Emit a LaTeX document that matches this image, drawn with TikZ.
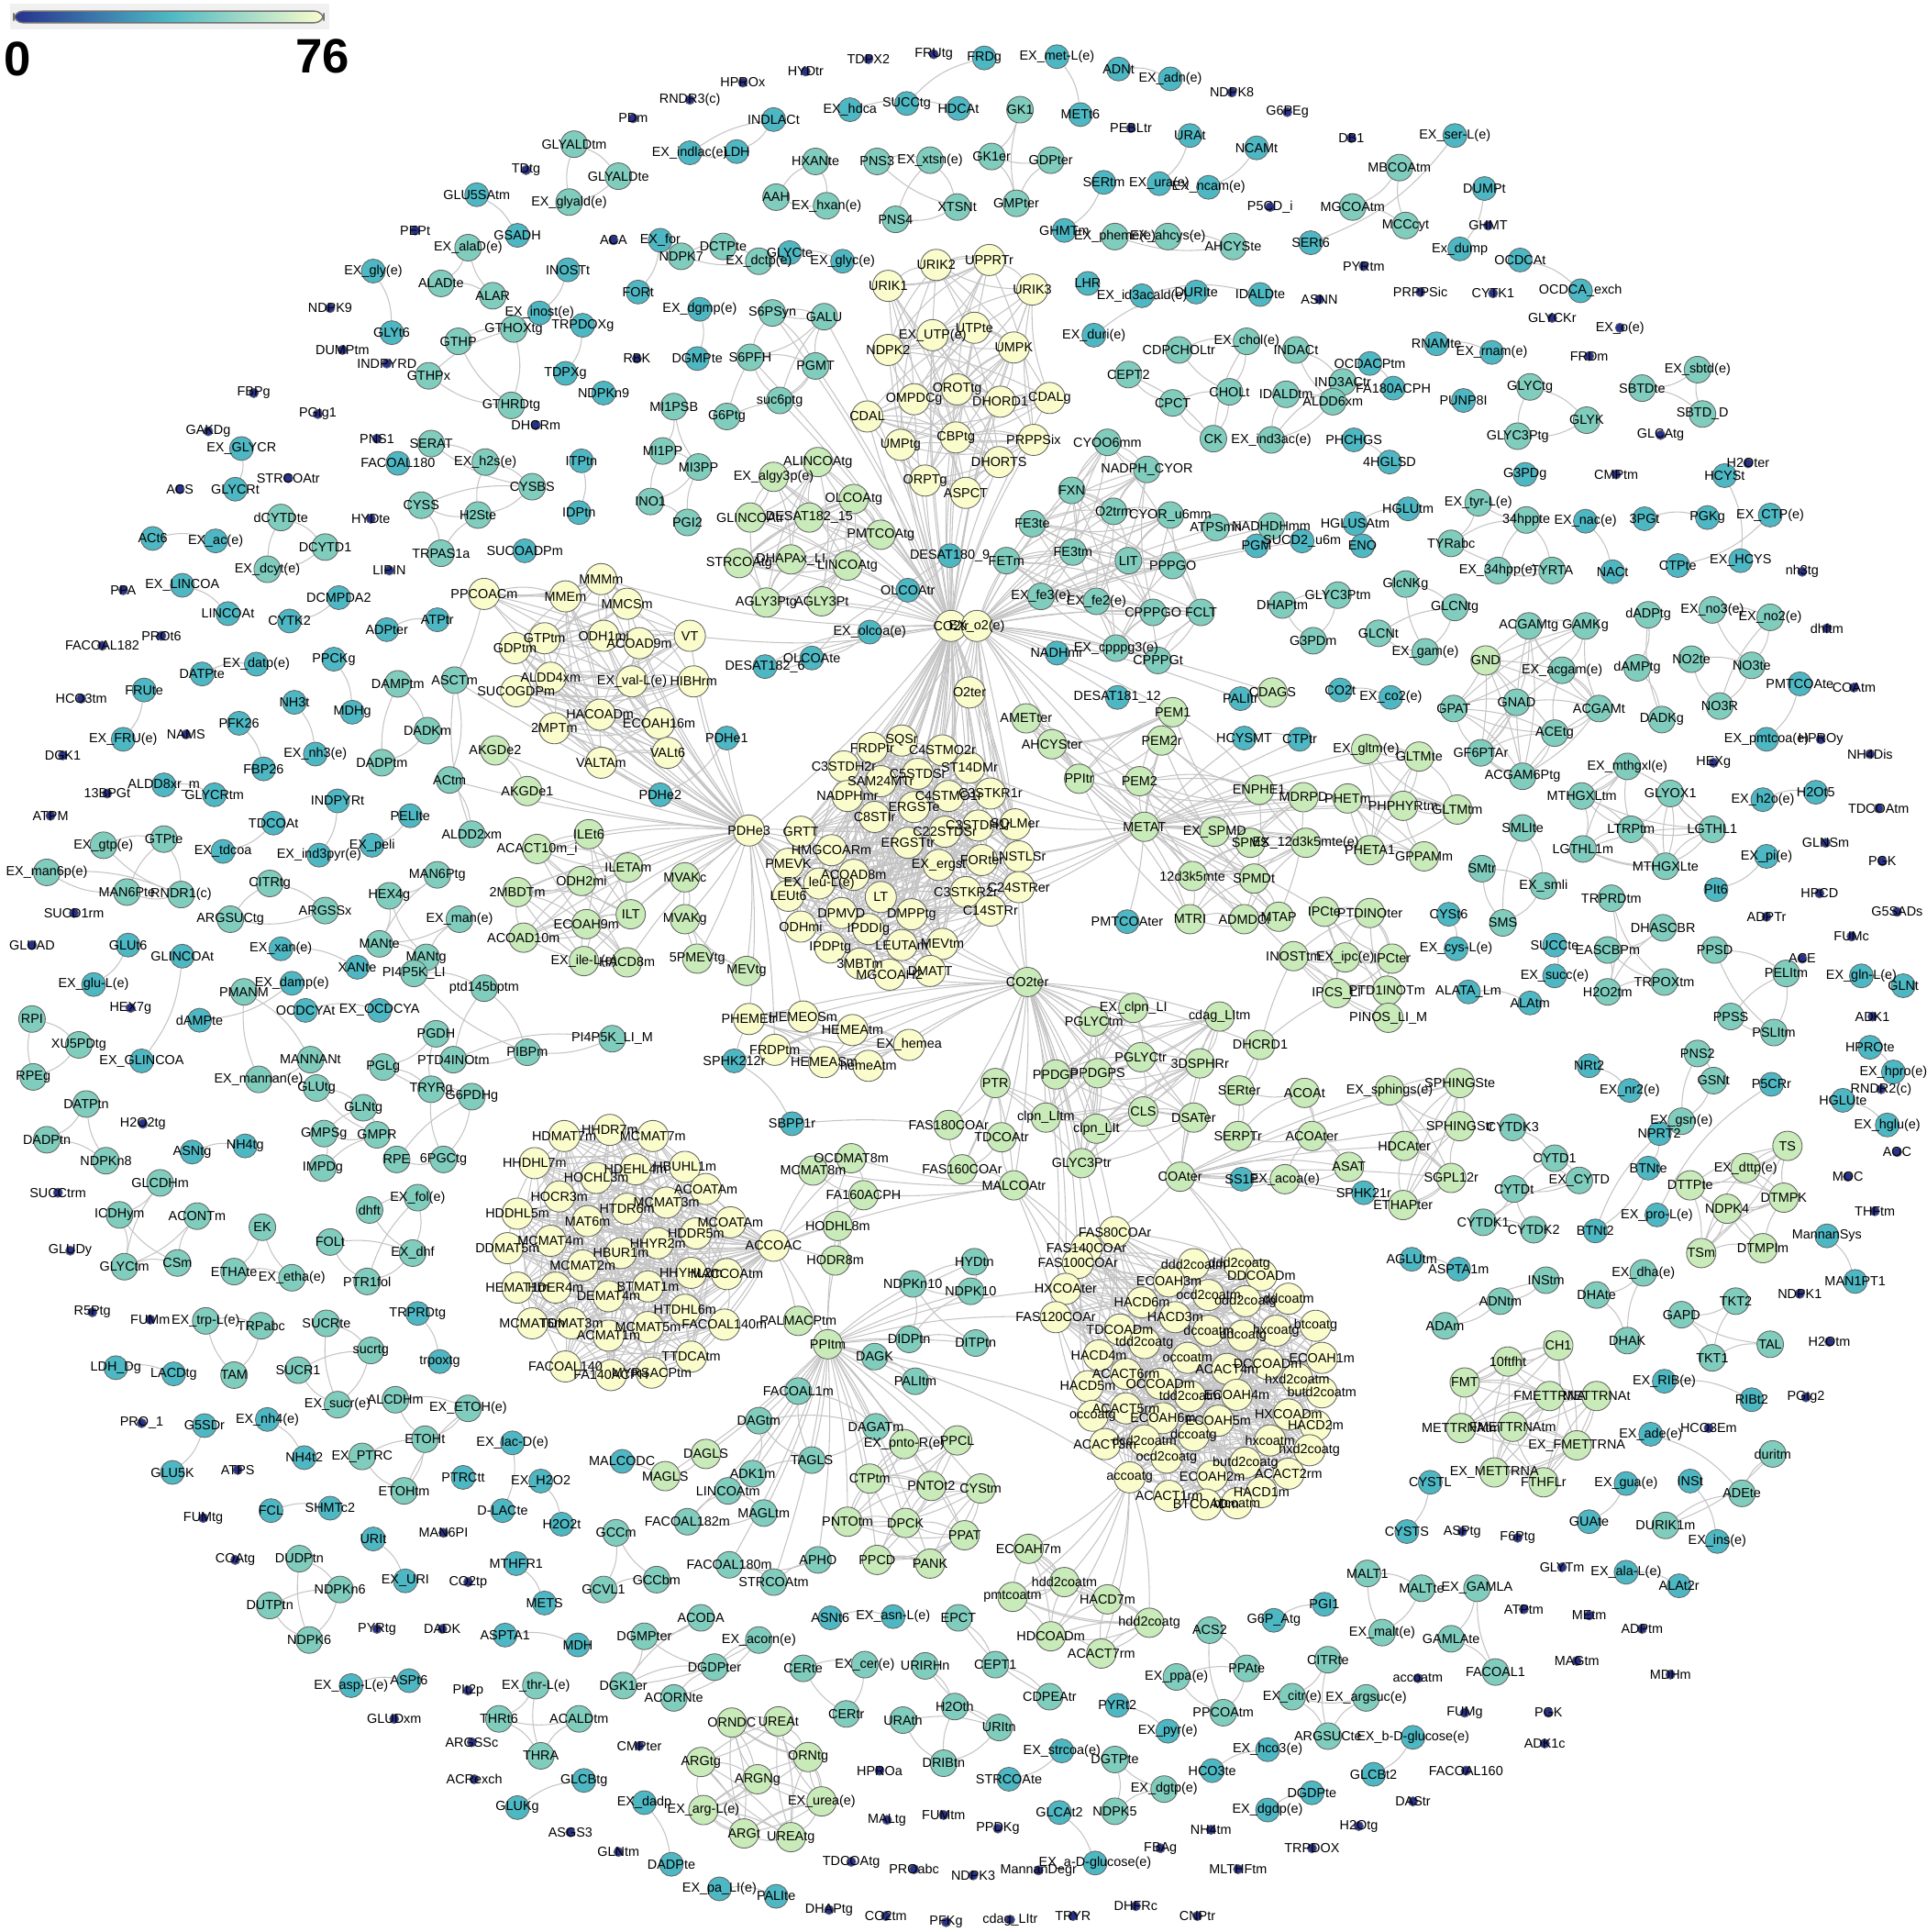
\documentclass[tikz,border=0pt]{standalone}
\usepackage{fontspec}
\setmainfont{Liberation Sans}
\pgfdeclarelayer{bgl}
\pgfdeclarelayer{fg}
\pgfsetlayers{bgl,main,fg}
\definecolor{dkc}{HTML}{27318F}
\definecolor{tlc}{HTML}{4DB8C3}
\definecolor{mtc}{HTML}{80CDBE}
\definecolor{lgc}{HTML}{C9EAB9}
\definecolor{ylc}{HTML}{FBFCCC}
\definecolor{edgc}{HTML}{C4C4C4}
\tikzset{
 base/.style={circle, draw=black!60, line width=0.25pt, inner sep=0pt},
 dk/.style={base, fill=dkc, minimum size=0.1cm},
 tl/.style={base, fill=tlc, minimum size=0.26cm},
 mt/.style={base, fill=mtc, minimum size=0.29cm},
 lg/.style={base, fill=lgc, minimum size=0.32cm},
 yl/.style={base, fill=ylc, minimum size=0.34cm},
 lb/.style={font=\fontsize{4.1}{4.1}\selectfont, inner sep=0pt, text=black},
 lnk/.style={draw=edgc, line width=0.3pt},
}
\def\grplist{}
\newcommand\defgrp[4]{%
  \expandafter\gdef\csname G@#1\endcsname{#4}%
  \ifx\grplist\empty\xdef\grplist{#1/#2/#3}\else\xdef\grplist{\grplist,#1/#2/#3}\fi}
\newcommand\mydense[5]{%
  \foreach \i in {1,...,#2}{%
    \foreach \j in {1,...,#5}{%
      \pgfmathtruncatemacro\kk{mod(\i*#3+\j*#4,#2)+1}%
      \ifnum\kk=\i\relax\else\draw[lnk] (#1-\i) to[bend left=10] (#1-\kk);\fi
    }}}
\newcommand\myspoke[4]{%
  \foreach \k in {#3} {\draw[lnk] (#1) to[bend left=#4] (#2-\k);}}

% ===== dark isolated nodes =====
\defgrp{DA}{dk}{0}{603/67/HPROx, 654/58/HYDtr, 705/48/TDPX2, 758/44/FRUtg, 560/81/RNDR3(c), 514/96/PDm, 918/104/PEBLtr, 1000/75/NDPK8, 1045/91/G6PEg, 1097/112/DB1, 427/138/TDtg, 1031/168/P5CD\_i, 1208/183/GHMT, 337/187/PEPt, 498/195/ACA, 1071/243/ASNN, 1107/216/PYRtm, 1153/237/PRPPSic, 1212/238/CYTK1, 1260/258/GLYCKr, 1315/266/EX\_o(e), 1290/289/FRDm, 268/250/NDPK9, 517/291/RBK, 278/284/DUMPtm, 314/295/INDPYRD, 206/319/FBPg, 258/336/PGtg1, 306/356/PNS1, 435/345/DHCRm, 169/350/GAKDg, 234/388/STRCOAtr, 146/397/ACS, 1348/353/GLCAtg, 1312/385/CMPtm, 1419/376/H2Oter}
\defgrp{DB}{dk}{0}{301/421/HYDte, 316/463/LIPIN, 100/479/PPA, 131/516/PROt6, 83/524/FACOAL182, 66/567/HCO3tm, 151/596/NAMS, 51/613/DGK1, 87/644/13BPGt, 41/662/ATPM, 60/741/SUCD1rm, 26/767/GLUAD, 106/818/HEX7g, 116/912/H2O2tg, 47/968/SUCCtrm, 57/1015/GLUDy, 75/1065/R5Ptg, 122/1071/FUMm, 115/1155/PRO\_1, 193/1193/ATPS, 165/1232/FUMtg, 360/1244/MAN6PI, 191/1266/COAtg, 380/1284/CO2tp, 306/1322/PYRtg, 359/1322/DADK, 380/1372/PIt2p, 320/1395/GLUDxm, 383/1414/ARGSSc, 385/1444/ACRexch, 463/1487/ASGS3, 502/1503/GLNtm, 519/1417/CMPter}
\defgrp{DC}{dk}{0}{714/1437/HPROa, 720/1477/MALtg, 766/1473/FUMtm, 810/1484/PPDKg, 691/1511/TDCOAtg, 742/1517/PROabc, 790/1522/NDPK3, 843/1518/MannanDegr, 673/1550/DHAPtg, 719/1555/CO2tm, 768/1560/PFKg, 820/1558/cdag\_LItr, 871/1555/TRYR, 922/1547/DHFRc, 942/1500/FBAg, 983/1485/NH4tm, 1065/1500/TRPDOX, 1005/1517/MLTHFtm, 972/1555/CNPtr, 1103/1482/H2Otg, 1147/1462/DAStr, 1190/1437/FACOAL160, 1151/1362/accoatm, 1189/1390/FUMg, 1257/1390/PGK, 1254/1415/ADK1c, 1280/1348/MAGtm, 1356/1359/MDHm, 1237/1306/ATPtm, 1290/1311/MEtm, 1333/1322/ADPtm, 1268/1272/GLYTm, 1187/1243/ASPtg, 1232/1248/F6Ptg, 1387/1159/HCO3Em, 1466/1134/PGtg2, 1485/1089/H2Otm, 1461/1050/NDPK1, 1522/983/THFtm, 1500/955/MOC, 1540/935/AOC}
\defgrp{DD}{dk}{0}{1463/464/nh3tg, 1483/510/dhftm, 1505/558/COAtm, 1478/600/HPROy, 1518/612/NH4Dis, 1391/619/HEXg, 1525/656/TDCOAtm, 1482/684/GLNSm, 1528/699/PGK, 1477/725/HPCD, 1434/744/ADPTr, 1540/740/G5SADs, 1503/760/FUMc, 1463/778/ACE, 1520/825/ADK1, 1527/884/RNDR2(c)}

% ===== top groups =====
\defgrp{T1}{tl}{1}{690/89/EX\_hdca, 778/88/HDCAt}
\defgrp{T2}{tl}{1}{736/84/SUCCtg, 799/47/FRDg}
\defgrp{T3}{tl}{1}{628/97/INDLACt, 598/123/LDH, 560/124/EX\_indlac(e)}
\defgrp{T4}{mt}{1}{828/89/GK1, 805/127/GK1er, 825/165/GMPter, 853/130/GDPter}
\defgrp{T5}{mt}{1}{630/160/AAH, 662/131/HXANte, 671/167/EX\_hxan(e)}
\defgrp{T6}{mt}{1}{712/131/PNS3, 755/130/EX\_xtsn(e), 777/168/XTSNt, 727/178/PNS4}
\defgrp{T7}{tl}{1}{858/46/EX\_met-L(e), 877/93/METt6}
\defgrp{T8}{tl}{1}{908/56/ADNt, 950/64/EX\_adn(e)}
\defgrp{T9}{tl}{1}{966/110/URAt, 941/149/EX\_ura(e)}
\defgrp{T10}{tl}{1}{1020/120/NCAMt, 981/152/EX\_ncam(e)}
\defgrp{T11}{tl}{1}{896/148/SERtm, 864/187/GHMTm}
\defgrp{T12}{tl}{1}{1181/110/EX\_ser-L(e), 1064/197/SERt6}
\defgrp{T13}{mt}{1}{1136/136/MBCOAtm, 1098/168/MGCOAtm, 1141/183/MCCcyt}
\defgrp{T14}{tl}{1}{1205/153/DUMPt, 1185/202/Ex\_dump}
\defgrp{T15}{mt}{1}{905/192/EX\_pheme(e), 948/192/EX\_ahcys(e), 1001/200/AHCYSte}
\defgrp{T16}{mt}{1}{466/117/GLYALDtm, 502/143/GLYALDte, 462/164/EX\_glyald(e)}
\defgrp{T17}{tl}{1}{387/158/GLU5SAtm, 420/191/GSADH}
\defgrp{T18}{tl}{1}{536/195/EX\_for, 518/237/FORt}
\defgrp{T19}{mt}{1}{553/208/NDPK7, 587/200/DCTPte, 616/212/EX\_dctp(e)}
\defgrp{T20}{tl}{1}{641/205/GLYCte, 684/212/EX\_glyc(e)}
\defgrp{T21}{mt}{1}{380/201/EX\_alaD(e), 358/230/ALADte, 400/240/ALAR}
\defgrp{T22}{tl}{1}{461/219/INOSTt, 438/254/EX\_inost(e)}
\defgrp{T23}{tl}{1}{303/220/EX\_gly(e), 318/270/GLYt6}
\defgrp{T24}{tl}{1}{568/251/EX\_dgmp(e), 566/291/DGMPte}
\defgrp{T25}{mt}{1}{372/277/GTHP, 417/267/GTHOXtg, 415/329/GTHRDtg, 348/305/GTHPx}
\defgrp{T26}{tl}{1}{473/264/TRPDOXg, 459/303/TDPXg}
\defgrp{T27}{tl}{1}{888/272/EX\_duri(e), 971/237/DURIte}
\defgrp{T28}{tl}{1}{927/240/EX\_id3acald(e), 1023/239/IDALDte}
\defgrp{T29}{tl}{1}{883/230/LHR}
\defgrp{T30}{mt}{1}{957/284/CDPCHOLtr, 1012/277/EX\_chol(e), 998/318/CHOLt, 985/356/CK, 952/327/CPCT, 916/304/CEPT2}
\defgrp{T31}{mt}{1}{1052/284/INDACt, 1090/310/IND3ACtr, 1082/326/ALDD6xm, 1032/357/EX\_ind3ac(e), 1044/320/IDALDtm}
\defgrp{T32}{tl}{1}{1166/279/RNAMte, 1211/286/EX\_rnam(e)}
\defgrp{T33}{tl}{1}{1112/295/OCDACPtm, 1131/315/FA180ACPH}
\defgrp{T33b}{tl}{1}{1188/325/PUNP8I}
\defgrp{T34}{tl}{1}{1234/211/OCDCAt, 1283/236/OCDCA\_exch}
\defgrp{T35}{mt}{1}{1378/300/EX\_sbtd(e), 1333/315/SBTDte, 1382/336/SBTD\_D}
\defgrp{T36}{mt}{1}{1242/314/GLYCtg, 1288/341/GLYK, 1232/354/GLYC3Ptg}
\defgrp{T36b}{tl}{1}{1238/385/G3PDg}
\defgrp{T37}{tl}{1}{1099/357/PHCHGS, 1128/375/4HGLSD}
\defgrp{T38}{tl}{1}{1100/425/HGLUSAtm, 1143/413/HGLUtm}
\defgrp{T39}{mt}{1}{350/360/SERAT, 394/375/EX\_h2s(e), 432/395/CYSBS, 388/418/H2Ste, 342/410/CYSS, 358/449/TRPAS1a}
\defgrp{T40}{tl}{1}{323/376/FACOAL180}
\defgrp{T41}{tl}{1}{196/364/EX\_GLYCR, 191/397/GLYCRt}
\defgrp{T42}{tl}{1}{490/319/NDPKn9}
\defgrp{T42b}{tl}{1}{472/374/ITPtn, 470/416/IDPtn}
\defgrp{T43}{mt}{1}{547/330/MI1PSB, 538/366/MI1PP, 567/379/MI3PP, 528/407/INO1, 558/424/PGI2}
\defgrp{T44}{mt}{1}{1200/408/EX\_tyr-L(e), 1178/441/TYRabc, 1239/422/34hppte, 1260/463/TYRTA, 1216/463/EX\_34hpp(e)}
\defgrp{T45}{tl}{1}{1287/423/EX\_nac(e), 1309/464/NACt}
\defgrp{T46}{tl}{1}{1335/421/3PGt, 1386/420/PGKg}
\defgrp{T47}{tl}{1}{1437/418/EX\_CTP(e), 1362/459/CTPte}
\defgrp{T48}{tl}{1}{1400/386/HCYSt, 1413/455/EX\_HCYS}
\defgrp{T49}{tl}{1}{1020/443/PGM}
\defgrp{T50}{tl}{1}{1057/439/SUCD2\_u6m}
\defgrp{T51}{tl}{1}{1106/443/ENO}
\defgrp{T52}{mt}{1}{228/420/dCYTDte, 264/444/DCYTD1, 217/462/EX\_dcyt(e)}
\defgrp{T53}{tl}{1}{124/437/ACt6, 175/439/EX\_ac(e)}
\defgrp{T54}{tl}{1}{426/447/SUCOADPm}
\defgrp{T55}{tl}{1}{148/475/EX\_LINCOA, 185/498/LINCOAt}
\defgrp{T56}{tl}{1}{275/485/DCMPDA2, 235/504/CYTK2}
\defgrp{T57}{tl}{1}{314/511/ADPter, 355/503/ATPtr}
\defgrp{T58}{tl}{1}{164/547/DATPte, 208/539/EX\_datp(e)}
\defgrp{T59}{tl}{1}{271/535/PPCKg, 286/578/MDHg}
\defgrp{T60}{tl}{1}{117/560/FRUte, 100/600/EX\_FRU(e)}
\defgrp{T61}{tl}{1}{239/570/NH3t, 256/612/EX\_nh3(e)}
\defgrp{T62}{tl}{1}{194/587/PFK26, 214/624/FBP26}
\defgrp{T63}{mt}{1}{323/555/DAMPtm, 347/593/DADKm, 310/619/DADPtm}
\defgrp{T64}{mt}{1}{369/552/ASCTm, 365/633/ACtm, 383/677/ALDD2xm}
\defgrp{T65}{tl}{1}{133/637/ALDD8xr\_m, 174/645/GLYCRtm}
\defgrp{T66}{tl}{1}{274/650/INDPYRt, 259/694/EX\_ind3pyr(e)}
\defgrp{T67}{tl}{1}{333/662/PELIte, 302/686/EX\_peli}
\defgrp{T68}{tl}{1}{222/668/TDCOAt, 181/691/EX\_tdcoa}
\defgrp{T69}{mt}{1}{84/686/EX\_gtp(e), 133/681/GTPte, 147/726/RNDR1(c), 103/724/MAN6Pte, 38/708/EX\_man6p(e)}
\defgrp{T70}{mt}{1}{219/717/CITRtg, 264/739/ARGSSx, 187/746/ARGSUCtg}
\defgrp{T71}{mt}{1}{355/710/MAN6Ptg, 316/727/HEX4g, 308/766/MANte, 346/777/MANtg, 373/746/EX\_man(e)}
\defgrp{T72}{tl}{1}{104/767/GLUt6, 76/799/EX\_glu-L(e)}
\defgrp{T73}{tl}{1}{228/770/EX\_xan(e), 290/785/XANte}

% ===== left band =====
\defgrp{L1}{tl}{1}{148/776/GLINCOAt, 115/861/EX\_GLINCOA}
\defgrp{L2}{mt}{1}{198/805/PMANM, 252/860/MANNANt, 210/876/EX\_mannan(e)}
\defgrp{L3}{tl}{1}{237/798/EX\_damp(e), 162/828/dAMPte}
\defgrp{L4}{tl}{1}{248/820/OCDCYAt, 308/820/EX\_OCDCYA}
\defgrp{L5}{mt}{1}{336/790/PI4P5K\_LI, 393/802/ptd145bptm, 428/854/PIBPm, 368/860/PTD4INOtm, 497/843/PI4P5K\_LI\_M}
\defgrp{L6}{mt}{1}{26/827/RPI, 64/848/XU5PDtg, 27/874/RPEg}
\defgrp{L7}{mt}{1}{354/839/PGDH, 311/866/PGLg, 350/884/TRYRg, 383/890/G6PDHg, 360/941/6PGCtg, 322/941/RPE}
\defgrp{L8}{mt}{1}{257/883/GLUtg, 295/899/GLNtg, 306/921/GMPR, 263/920/GMPSg, 262/948/IMPDg}
\defgrp{L9}{mt}{1}{70/896/DATPtn, 38/925/DADPtn, 86/942/NDPKn8}
\defgrp{L10}{tl}{1}{156/935/ASNtg, 199/930/NH4tg}
\defgrp{L11}{mt}{1}{130/960/GLCDHm, 97/986/ICDHym, 101/1028/GLYCtm, 144/1025/CSm, 160/987/ACONTm}
\defgrp{L12}{mt}{1}{213/996/EK, 190/1032/ETHAte, 237/1037/EX\_etha(e)}
\defgrp{L13}{mt}{1}{300/982/dhft, 339/972/EX\_fol(e), 335/1017/EX\_dhf, 298/1040/PTR1fol, 268/1008/FOLt}
\defgrp{L14}{tl}{1}{339/1066/TRPRDtg, 357/1105/trpoxtg}
\defgrp{L15}{mt}{1}{167/1072/EX\_trp-L(e), 212/1076/TRPabc, 190/1116/TAM}
\defgrp{L16}{tl}{1}{94/1110/LDH\_Dg, 141/1115/LACDtg}
\defgrp{L17}{mt}{1}{265/1074/SUCRte, 301/1096/sucrtg, 274/1140/EX\_sucr(e), 242/1112/SUCR1}
\defgrp{L18}{mt}{1}{321/1136/ALCDHm, 380/1143/EX\_ETOH(e), 345/1168/ETOHt, 328/1210/ETOHtm, 294/1182/EX\_PTRC}
\defgrp{L18b}{tl}{1}{376/1199/PTRCtt}
\defgrp{L19}{tl}{1}{217/1152/EX\_nh4(e), 247/1183/NH4t2}
\defgrp{L20}{tl}{1}{166/1157/G5SDr, 140/1195/GLU5K}
\defgrp{L21}{tl}{1}{220/1226/FCL, 268/1224/SHMTc2}
\defgrp{L22}{tl}{1}{416/1171/EX\_lac-D(e), 408/1226/D-LACte}
\defgrp{L23}{tl}{1}{439/1202/EX\_H2O2, 456/1237/H2O2t}
\defgrp{L24}{tl}{1}{419/1269/MTHFR1, 442/1301/METS}
\defgrp{L25}{mt}{1}{243/1265/DUDPtn, 276/1290/NDPKn6, 251/1331/NDPK6, 219/1303/DUTPtn}
\defgrp{L26}{tl}{1}{303/1249/URIt, 329/1283/EX\_URI}
\defgrp{L27}{tl}{1}{410/1327/ASPTA1, 469/1335/MDH}
\defgrp{L28}{tl}{1}{285/1368/EX\_asp-L(e), 332/1364/ASPt6}
\defgrp{L29}{mt}{1}{435/1368/EX\_thr-L(e), 405/1395/THRt6, 439/1425/THRA, 470/1395/ACALDtm}
\defgrp{L30}{tl}{1}{420/1467/GLUKg, 474/1445/GLCBtg}
\defgrp{L31}{tl}{1}{523/1463/EX\_dadp, 545/1513/DADPte}

% ===== bottom =====
\defgrp{B1}{mt}{1}{569/1313/ACODA, 523/1328/DGMPter, 506/1368/DGK1er, 580/1353/DGDPter, 616/1331/EX\_acorn(e), 547/1378/ACORNte}
\defgrp{B2}{lg}{1}{594/1398/ORNDC, 632/1397/UREAt, 656/1426/ORNtg, 667/1462/EX\_urea(e), 642/1491/UREAtg, 604/1488/ARGt, 571/1469/EX\_arg-L(e), 569/1430/ARGtg, 615/1444/ARGNg}
\defgrp{B3}{tl}{1}{584/1533/EX\_pa\_LI(e), 630/1539/PALIte}
\defgrp{B4}{mt}{1}{500/1244/GCCm, 490/1290/GCVL1, 533/1282/GCCbm}
\defgrp{B5}{tl}{1}{674/1313/ASNt6, 725/1312/EX\_asn-L(e)}
\defgrp{B6}{mt}{1}{652/1354/CERte, 702/1351/EX\_cer(e), 687/1391/CERtr}
\defgrp{B7}{mt}{1}{778/1313/EPCT, 808/1351/CEPT1, 852/1377/CDPEAtr}
\defgrp{B8}{mt}{1}{751/1352/URIRHn, 775/1385/H2Oth, 811/1402/URItn, 766/1431/DRIBtn, 733/1396/URAth}
\defgrp{B9}{tl}{1}{862/1421/EX\_strcoa(e), 819/1444/STRCOAte}
\defgrp{B10}{mt}{1}{905/1428/DGTPte, 905/1470/NDPK5, 945/1452/EX\_dgtp(e)}
\defgrp{B11}{tl}{1}{907/1384/PYRt2, 948/1405/EX\_pyr(e)}
\defgrp{B12}{mt}{1}{982/1323/ACS2, 1012/1354/PPAte, 993/1390/PPCOAtm, 955/1361/EX\_ppa(e)}
\defgrp{B13}{tl}{1}{860/1471/GLCAt2, 889/1512/EX\_a-D-glucose(e)}
\defgrp{B14}{tl}{1}{984/1437/HCO3te, 1029/1420/EX\_hco3(e)}
\defgrp{B15}{tl}{1}{1029/1469/EX\_dgdp(e), 1065/1455/DGDPte}
\defgrp{B16}{tl}{1}{1034/1315/G6P\_Atg, 1075/1302/PGI1}
\defgrp{B17}{mt}{1}{1078/1347/CITRte, 1049/1377/EX\_citr(e), 1078/1409/ARGSUCte, 1109/1378/EX\_argsuc(e)}
\defgrp{B18}{tl}{1}{1147/1410/EX\_b-D-glucose(e), 1115/1440/GLCBt2}
\defgrp{B19}{mt}{1}{1110/1277/MALT1, 1154/1289/MALTte, 1122/1325/EX\_malt(e)}
\defgrp{B20}{mt}{1}{1199/1289/EX\_GAMLA, 1178/1330/GAMLAte, 1214/1357/FACOAL1}

% ===== right =====
\defgrp{R1}{tl}{1}{1161/1203/CYSTL, 1142/1243/CYSTS}
\defgrp{R2}{tl}{1}{1320/1204/EX\_gua(e), 1290/1235/GUAte}
\defgrp{R3}{tl}{1}{1372/1202/INSt, 1394/1251/EX\_ins(e)}
\defgrp{R4}{mt}{1}{1352/1238/DURIK1m, 1414/1212/ADEte, 1439/1180/duritm}
\defgrp{R4b}{tl}{1}{1340/1164/EX\_ade(e)}
\defgrp{R5}{tl}{1}{1320/1276/EX\_ala-L(e), 1363/1287/ALAt2r}
\defgrp{R6}{tl}{1}{1351/1121/EX\_RIB(e), 1422/1136/RIBt2}
\defgrp{R7}{mt}{1}{1409/1056/TKT2, 1365/1067/GAPD, 1390/1102/TKT1, 1437/1091/TAL}
\defgrp{R8}{mt}{1}{1334/1033/EX\_dha(e), 1296/1051/DHAte, 1321/1088/DHAK}
\defgrp{R9}{mt}{1}{1255/1039/INStm, 1218/1056/ADNtm, 1173/1076/ADAm}
\defgrp{R10}{tl}{1}{1146/1022/AGLUtm, 1184/1030/ASPTA1m}
\defgrp{R11}{lg}{1}{1265/1092/CH1, 1224/1105/10ftfht, 1189/1122/FMT, 1258/1133/FMETTRNA, 1296/1133/METTRNAt, 1186/1159/METTRNAtm, 1228/1158/FMETTRNAtm, 1280/1173/EX\_FMETTRNA, 1213/1195/EX\_METTRNA, 1253/1203/FTHFLr}
\defgrp{R12}{tl}{1}{1483/1003/MannanSys, 1506/1040/MAN1PT1}
\defgrp{R13}{lg}{1}{1451/930/TS, 1417/948/EX\_dttp(e), 1372/962/DTTPte, 1448/972/DTMPK, 1402/981/NDPK4, 1381/1017/TSm, 1431/1013/DTMPlm}
\defgrp{R14}{mt}{1}{1228/915/CYTDK3, 1262/940/CYTD1, 1282/958/EX\_CYTD, 1229/965/CYTDt, 1204/992/CYTDK1, 1245/998/CYTDK2}
\defgrp{R15}{tl}{1}{1347/920/NPRT2, 1338/948/BTNte, 1295/999/BTNt2}
\defgrp{R16}{tl}{1}{1345/986/EX\_pro-L(e), 1438/880/P5CRr}
\defgrp{R17}{tl}{1}{1290/865/NRt2, 1323/885/EX\_nr2(e)}
\defgrp{R18}{mt}{1}{1378/855/PNS2, 1391/877/GSNt, 1365/910/EX\_gsn(e)}
\defgrp{R19}{tl}{1}{1518/850/HPROte, 1537/870/EX\_hpro(e)}
\defgrp{R20}{tl}{1}{1496/893/HGLUte, 1532/913/EX\_hglu(e)}
\defgrp{R21}{mt}{1}{1392/771/PPSD, 1450/790/PELItm, 1440/838/PSLItm, 1405/825/PPSS}
\defgrp{R22}{tl}{1}{1511/792/EX\_gln-L(e), 1545/800/GLNt}
\defgrp{R23}{mt}{1}{1350/753/DHASCBR, 1305/771/EASCBPm, 1305/805/H2O2tm, 1351/797/TRPOXtm, 1308/729/TRPRDtm}
\defgrp{R24}{tl}{1}{1262/767/SUCCte, 1262/792/EX\_succ(e)}
\defgrp{R25}{tl}{1}{1176/742/CYSt6, 1182/770/EX\_cys-L(e)}
\defgrp{R26}{tl}{1}{1192/805/ALATA\_Lm, 1242/814/ALAtm}
\defgrp{R27}{mt}{1}{1236/672/SMLIte, 1253/719/EX\_smli, 1220/749/SMS, 1203/705/SMtr}
\defgrp{R28}{mt}{1}{1321/622/EX\_mthgxl(e), 1284/646/MTHGXLtm, 1285/689/LGTHL1m, 1324/673/LTRPtm, 1352/703/MTHGXLte, 1390/673/LGTHL1, 1356/644/GLYOX1}
\defgrp{R29}{tl}{1}{1434/695/EX\_pi(e), 1393/722/PIt6}
\defgrp{R30}{tl}{1}{1431/649/EX\_h2o(e), 1474/643/H2Ot5}
\defgrp{R31}{lg}{1}{1109/608/EX\_gltm(e), 1152/614/GLTMte, 1183/657/GLTMtm, 1139/654/PHPHYRtm, 1094/648/PHETm, 1112/690/PHETA1, 1156/695/GPPAMm}
\defgrp{R32}{mt}{1}{1241/508/ACGAMtg, 1287/508/GAMKg, 1268/544/EX\_acgam(e), 1298/575/ACGAMt, 1262/595/ACEtg, 1236/630/ACGAM6Ptg, 1202/611/GF6PTAr, 1180/575/GPAT, 1231/570/GNAD}
\defgrp{R32g}{lg}{1}{1206/536/GND}
\defgrp{R33}{mt}{1}{1338/499/dADPtg, 1329/542/dAMPtg, 1349/584/DADKg}
\defgrp{R34}{mt}{1}{1390/495/EX\_no3(e), 1437/501/EX\_no2(e), 1422/540/NO3te, 1396/573/NO3R, 1373/535/NO2te}
\defgrp{R35}{tl}{1}{1461/555/PMTCOAte, 1434/600/EX\_pmtcoa(e)}
\defgrp{R36}{tl}{1}{1088/560/CO2t, 1129/566/EX\_co2(e)}
\defgrp{R37}{mt}{1}{1141/474/GlcNKg, 1181/493/GLCNtg, 1157/529/EX\_gam(e), 1119/514/GLCNt}
\defgrp{R38}{mt}{1}{1041/491/DHAPtm, 1086/483/GLYC3Ptm, 1066/520/G3PDm}
\defgrp{I1}{lg}{1}{1075/740/IPCte, 1112/741/PTDINOter, 1130/778/IPCter, 1092/777/EX\_ipc(e), 1050/776/INOSTtm, 1085/806/IPCS\_LI, 1126/804/PTD1INOTm, 1127/826/PINOS\_LI\_M}
\defgrp{S1}{lg}{1}{1128/885/EX\_sphings(e), 1185/879/SPHINGSte, 1185/914/SPHINGStr, 1140/930/HDCAter, 1178/956/SGPL12r, 1139/978/ETHAPter}
\defgrp{S2}{tl}{1}{1107/968/SPHK21r}

% ===== centre =====
\defgrp{C4}{lg}{1}{888/829/PGLYCtm, 920/818/EX\_clpn\_LI, 926/858/PGLYCtr, 891/871/PPDGPS, 857/872/PPDGP, 990/825/cdag\_LItm, 974/863/3DSPHRr, 849/907/clpn\_LItm, 890/916/clpn\_LIt, 928/902/CLS, 969/907/DSATer, 878/944/GLYC3Ptr}
\defgrp{C5}{lg}{1}{1023/848/DHCRD1, 1006/885/SERter, 1005/922/SERPTr, 1059/887/ACOAt, 1065/922/ACOAter, 1095/947/ASAT, 1043/957/EX\_acoa(e), 958/955/COAter}
\defgrp{C5b}{tl}{1}{1008/957/SS1P}
\defgrp{C6}{lg}{1}{833/583/AMETter, 854/604/AHCYSter, 876/632/PPItr, 952/578/PEM1, 943/601/PEM2r, 925/634/PEM2, 1022/641/ENPHE1, 1058/647/MDRPD, 986/675/EX\_SPMD, 1015/684/SPMS, 1060/684/EX\_12d3k5mte(e), 968/711/12d3k5mte, 1018/713/SPMDt, 1038/744/MTAP, 966/746/MTRI, 1010/746/ADMDCi}
\defgrp{C6h}{lg}{1}{929/671/METAT}
\defgrp{C6t}{tl}{1}{1010/599/HCYSMT, 1055/600/CTPtr}
\defgrp{C6u}{tl}{1}{1007/567/PALItr}
\defgrp{C6v}{lg}{1}{1033/562/CDAGS}
\defgrp{C6w}{tl}{1}{915/748/PMTCOAter}
\defgrp{C7}{yl}{1}{787/562/O2ter}
\defgrp{C7b}{tl}{1}{907/566/DESAT181\_12}
\defgrp{FE}{mt}{1}{899/359/CYOO6mm, 931/381/NADPH\_CYOR, 870/398/FXN, 904/415/O2trm, 950/418/CYOR\_u6mm, 838/425/FE3te, 916/455/LIT, 952/459/PPPGO, 871/448/FE3tm, 817/455/FETm, 845/484/EX\_fe3(e), 890/488/EX\_fe2(e), 936/497/CPPPGO, 975/497/FCLT, 906/526/EX\_cpppg3(e), 940/536/CPPPGt}
\defgrp{FEn}{tl}{1}{858/530/NADHmr}
\defgrp{FEb}{mt}{1}{987/428/ATPSmn, 1032/427/NADHDHmm}
\defgrp{UT}{yl}{1}{721/232/URIK1, 760/215/URIK2, 803/211/UPPRTr, 838/235/URIK3, 721/284/NDPK2, 757/272/EX\_UTP(e), 791/266/UTPte, 823/282/UMPK, 742/324/OMPDCg, 777/316/OROTtg, 812/326/DHORD1, 852/323/CDALg, 704/338/CDAL, 776/355/CBPtg, 839/357/PRPPSix, 731/361/UMPtg, 811/375/DHORTS, 751/390/ORPTg, 784/400/ASPCT}
\defgrp{SP}{mt}{1}{627/254/S6PSyn, 669/257/GALU, 609/290/S6PFH, 662/297/PGMT, 633/325/suc6ptg}
\defgrp{SPb}{mt}{1}{590/338/G6Ptg}
\defgrp{LP}{lg}{1}{628/387/EX\_algy3p(e), 664/375/ALINCOAtg, 609/420/GLINCOAtr, 657/420/DESAT182\_15, 693/405/OLCOAtg, 715/434/PMTCOAtg, 600/457/STRCOAtg, 642/454/DHAPAx\_LI, 688/459/LINCOAtg, 622/489/AGLY3Ptg, 667/488/AGLY3Pt}
\defgrp{LPt}{tl}{1}{771/451/DESAT180\_9, 737/479/OLCOAtr, 706/513/EX\_olcoa(e), 659/534/OLCOAte, 621/541/DESAT182\_6}
\defgrp{MM}{yl}{1}{393/482/PPCOACm, 459/484/MMEm, 488/470/MMMm, 509/490/MMCSm, 418/526/GDPtm, 442/518/GTPtm, 490/516/ODH1mi, 519/522/ACOAD9m, 560/516/VT, 447/550/ALDD4xm, 513/553/EX\_val-L(e), 563/553/HIBHrm, 419/561/SUCOGDPm, 487/580/HACOADm, 535/587/ECOAH16m, 450/591/2MPTm, 488/619/VALTAm, 542/611/VALt6}
\defgrp{AK}{lg}{1}{402/609/AKGDe2, 428/642/AKGDe1}
\defgrp{PD}{tl}{1}{590/599/PDHe1, 536/645/PDHe2}
\defgrp{PH}{yl}{1}{608/674/PDHe3}
\defgrp{IL}{lg}{1}{478/677/ILEt6, 436/689/ACACT10m\_i, 510/704/ILETAm, 472/715/ODH2mi, 420/724/2MBDTm, 512/742/ILT, 425/761/ACOAD10m, 476/750/ECOAH9m, 509/781/HACD8m, 474/780/EX\_ile-L(e)}
\defgrp{MV}{lg}{1}{556/712/MVAKc, 556/746/MVAKg, 566/778/5PMEVtg, 606/788/MEVtg}
\defgrp{K1}{yl}{1}{732/601/SQSr, 708/607/FRDPtr, 765/609/C4STMO2r, 685/622/C3STDH2r, 787/623/ST14DMr, 715/634/SAM24MTr, 745/628/C5STDSr, 688/646/NADPHmr, 770/646/C4STMO1r, 804/644/C3STKR1r, 742/655/ERGSTe, 710/663/C8STIr, 824/669/SQLMer, 794/670/C3STDH1r, 767/675/C22STDSr, 650/675/GRTT, 737/684/ERGSTtr, 675/690/HMGCOARm, 640/701/PMEVK, 827/695/LNSTLSr, 797/698/FORter, 762/702/EX\_ergst, 693/710/ACOAD8m, 665/717/EX\_leu-L(e), 827/720/C24STRer, 640/727/LEUt6, 715/728/LT, 784/724/C3STKR2r, 804/739/C14STRr, 683/741/DPMVD, 740/742/DMPPtg, 650/752/ODHmi, 705/754/IPDDIg, 732/767/LEUTAm, 765/766/MEVtm, 674/769/IPDPtg, 698/782/3MBTm, 722/791/MGCOAH2, 755/788/DMATT}
\defgrp{HM}{yl}{1}{608/827/PHEMEtr, 652/825/HEMEOSm, 692/836/HEMEAtm, 738/848/EX\_hemea, 629/852/FRDPtm, 669/862/HEMEASm, 705/865/hemeAtm}
\defgrp{CT}{lg}{1}{834/797/CO2ter}
\defgrp{PT}{lg}{1}{808/879/PTR}
\defgrp{SB}{tl}{1}{596/861/SPHK212r, 643/912/SBPP1r}
\defgrp{FA}{lg}{1}{770/913/FAS180COAr, 813/923/TDCOAtr, 781/949/FAS160COAr, 823/962/MALCOAtr}
\defgrp{MC}{lg}{1}{660/950/MCMAT8m, 691/940/OCDMAT8m, 701/970/FA160ACPH, 680/995/HODHL8m, 678/1023/HODR8m}
\defgrp{ND}{mt}{1}{791/1024/HYDtn, 788/1048/NDPK10, 741/1042/NDPKn10, 738/1087/DIDPtn, 792/1090/DITPtn}
\defgrp{PP}{lg}{1}{672/1091/PPItm}
\defgrp{PM}{lg}{1}{648/1072/PALMACPtm}
\defgrp{DG}{mt}{1}{710/1101/DAGK, 743/1121/PALItm}
\defgrp{TG}{mt}{1}{648/1129/FACOAL1m, 711/1158/DAGATm, 659/1185/TAGLS, 616/1153/DAGtm, 611/1196/ADK1m}
\defgrp{MG}{lg}{1}{573/1180/DAGLS, 540/1198/MAGLS}
\defgrp{MGb}{tl}{1}{505/1186/MALCODC}
\defgrp{LN}{mt}{1}{591/1210/LINCOAtm, 620/1228/MAGLtm, 558/1235/FACOAL182m}
\defgrp{AP}{mt}{1}{664/1266/APHO, 592/1270/FACOAL180m, 628/1284/STRCOAtm}
\defgrp{PN}{lg}{1}{734/1172/EX\_pnto-R(e), 777/1169/PPCL, 706/1200/CTPtm, 756/1206/PNTOt2, 796/1208/CYStm, 688/1235/PNTOtm, 735/1236/DPCK, 783/1246/PPAT, 712/1266/PPCD, 755/1269/PANK}
\defgrp{K2}{yl}{1}{458/922/HDMAT7m, 495/917/HHDR7m, 530/922/MCMAT7m, 434/944/HHDHL7m, 516/949/HDEHL4m, 556/947/HBUHL1m, 484/956/HOCHL3m, 573/965/ACOATAm, 454/971/HOCR3m, 541/976/MCMAT3m, 509/981/HTDR6m, 420/985/HDDHL5m, 477/991/MAT6m, 593/992/MCOATAm, 565/1001/HDDR5m, 447/1007/MCMAT4m, 534/1009/HHYR2m, 412/1013/DDMAT5m, 504/1017/HBUR1m, 473/1027/MCMAT2m, 561/1033/HHYHL2m, 590/1034/MACCOAtm, 420/1045/HEMAT1m, 451/1045/HDER4m, 526/1044/BTMAT1m, 494/1052/DEMAT4m, 556/1063/HTDHL6m, 432/1074/MCMAT6m, 464/1074/TDMAT3m, 526/1077/MCMAT5m, 588/1075/FACOAL140m, 494/1084/ACMAT1m, 561/1101/TTDCAtm, 459/1109/FACOAL140, 496/1116/FA140ACPH, 529/1114/MYRSACPtm}
\defgrp{AC}{yl}{1}{628/1011/ACCOAC}
\defgrp{K3}{yl}{1}{882/1013/FAS140COAr, 905/1000/FAS80COAr, 875/1025/FAS100COAr, 969/1026/ddd2coatm, 1006/1026/ddd2coatg, 949/1040/ECOAH3m, 1024/1035/DDCOADm, 865/1046/HXCOAter, 981/1051/ocd2coatm, 1046/1054/ddcoatm, 927/1057/HACD6m, 1011/1056/odd2coatg, 857/1069/FAS120COAr, 954/1069/HACD3m, 909/1079/TDCOADm, 981/1080/dccoatm, 1009/1084/ddcoatg, 1036/1080/hxcoatg, 1068/1076/btcoatg, 929/1090/tdd2coatg, 892/1100/HACD4m, 964/1102/occoatm, 996/1111/ACACT4m, 1029/1107/DCCOADm, 1073/1102/ECOAH1m, 914/1115/ACACT6rm, 942/1123/OCCOADm, 1053/1119/hxd2coatm, 883/1125/HACD5m, 966/1133/tdd2coatm, 1004/1132/ECOAH4m, 1073/1130/butd2coatm, 914/1143/ACACT5rm, 887/1149/occoatg, 944/1151/ECOAH6m, 989/1153/ECOAH5m, 1046/1148/HXCOADm, 1068/1157/HACD2m, 929/1169/dcd2coatm, 897/1172/ACACT3m, 969/1165/dccoatg, 1031/1169/hxcoatm, 1063/1177/hxd2coatg, 947/1183/ocd2coatg, 1011/1187/butd2coatg, 917/1199/accoatg, 984/1198/ECOAH2m, 1046/1196/ACACT2rm, 949/1214/ACACT1rm, 1024/1211/HACD1m, 979/1221/BTCOADm, 1004/1220/btcoatm}
\defgrp{E7}{lg}{1}{835/1257/ECOAH7m, 864/1284/hdd2coatm, 822/1296/pmtcoatm, 899/1298/HACD7m, 933/1317/hdd2coatg, 853/1328/HDCOADm, 894/1342/ACACT7rm}
\defgrp{HB}{yl}{1}{772/508/CO2tr, 793/508/EX\_o2(e)}

\begin{document}
\begin{tikzpicture}[x=0.013427cm, y=-0.013427cm]
\useasboundingbox (0,0) rectangle (1564,1568);
% colour bar
\fill[black!6] (8,3) rectangle (267,24);
\shade[left color=dkc, right color=ylc, middle color=tlc, rounded corners=3pt] (11,9) rectangle (263,18.5);
\draw[black!55, line width=0.4pt, rounded corners=3pt] (11,9) rectangle (263,18.5);
\node[font=\fontsize{15}{15}\selectfont\bfseries, inner sep=0pt] (cb0) at (14,48) {0};
\node[font=\fontsize{15}{15}\selectfont\bfseries, inner sep=0pt] (cb76) at (262,46) {76};

% ---- pass 1: nodes ----
\foreach \g/\s/\e in \grplist {%
  \expandafter\let\expandafter\cur\csname G@\g\endcsname
  \foreach \x/\y/\lab [count=\i] in \cur {\node[\s] (\g-\i) at (\x,\y) {};}
}

% ---- pass 2: connectors ----
\begin{pgfonlayer}{bgl}
\foreach \g/\s/\e in \grplist {%
  \ifnum\e=1\relax
  \expandafter\let\expandafter\cur\csname G@\g\endcsname
  \foreach \x/\y/\lab [count=\i] in \cur {%
    \ifnum\i>1\relax\pgfmathtruncatemacro\jj{\i-1}\draw[lnk] (\g-\jj) to[bend left=15] (\g-\i);\fi
    \ifnum\i>2\relax\pgfmathtruncatemacro\ii{\i-2}\draw[lnk] (\g-\ii) to[bend right=12] (\g-\i);\fi
  }%
  \fi
}
\mydense{K1}{39}{7}{5}{6}
\mydense{K2}{36}{5}{7}{6}
\mydense{K3}{52}{7}{11}{6}
\mydense{MM}{18}{5}{3}{3}
\mydense{UT}{19}{3}{5}{3}
\mydense{LP}{11}{3}{5}{3}
\mydense{FE}{16}{3}{5}{3}
\mydense{C6}{16}{3}{5}{2}
\mydense{C4}{12}{5}{3}{3}
\mydense{B2}{9}{2}{3}{3}
\mydense{R11}{10}{3}{2}{3}
\mydense{R13}{7}{2}{3}{2}
\mydense{R32}{9}{2}{3}{2}
\mydense{R31}{7}{2}{3}{2}
\mydense{R28}{7}{2}{3}{2}
\mydense{IL}{10}{3}{2}{2}
\mydense{PN}{10}{3}{2}{2}
\mydense{I1}{8}{3}{2}{2}
\mydense{S1}{6}{2}{1}{2}
\mydense{HM}{7}{2}{3}{2}
\mydense{E7}{7}{2}{3}{2}
\mydense{SP}{5}{2}{1}{1}
\myspoke{HB-1}{UT}{1,...,19}{6}
\myspoke{HB-1}{LP}{1,...,11}{-6}
\myspoke{HB-1}{LPt}{1,...,5}{-6}
\myspoke{HB-1}{SP}{1,...,5}{-6}
\myspoke{HB-1}{K1}{1,...,39}{5}
\myspoke{HB-1}{PH}{1}{5}
\myspoke{HB-1}{MM}{3,9}{8}
\myspoke{HB-2}{FE}{1,...,16}{6}
\myspoke{HB-2}{FEn}{1}{5}
\myspoke{HB-2}{K1}{1,3,5,9,10,13,20,25}{-5}
\myspoke{HB-2}{C6}{1,2,3,4,6}{5}
\myspoke{HB-2}{FEb}{1,2}{5}
\myspoke{HB-2}{C7}{1}{5}
\myspoke{HB-2}{C7b}{1}{5}
\myspoke{HB-2}{C6h}{1}{5}
\myspoke{HB-2}{CT}{1}{5}
\myspoke{HB-2}{T49}{1}{5}
\myspoke{HB-2}{T50}{1}{5}
\myspoke{HB-2}{C6u}{1}{5}
\myspoke{HB-2}{C6v}{1}{5}
\myspoke{PH-1}{MM}{1,...,18}{8}
\myspoke{PH-1}{IL}{1,...,10}{-8}
\myspoke{PH-1}{AK}{1,2}{5}
\myspoke{PH-1}{PD}{1,2}{5}
\myspoke{PH-1}{MV}{1,...,4}{5}
\myspoke{PH-1}{K1}{16,18,19,23,24,26,30,32,36,37}{5}
\myspoke{PH-1}{HM}{1,2,5}{5}
\myspoke{PH-1}{T64}{1,2}{5}
\myspoke{C6h-1}{C6}{1,...,16}{6}
\myspoke{C6h-1}{C6t}{1,2}{5}
\myspoke{C6h-1}{C6w}{1}{5}
\myspoke{C6h-1}{K1}{5,10,13,20,21,25,28,29}{5}
\myspoke{C6h-1}{R31}{1,...,7}{5}
\myspoke{C6h-1}{I1}{1,5}{5}
\myspoke{CT-1}{K1}{25,29,31,34,35,38,39}{5}
\myspoke{CT-1}{PT}{1}{5}
\myspoke{CT-1}{C4}{1,...,12}{6}
\myspoke{CT-1}{FA}{1,...,4}{5}
\myspoke{CT-1}{K3}{1,2,3,8,13,46}{8}
\myspoke{CT-1}{HM}{1,...,7}{-6}
\myspoke{CT-1}{C5}{1,8}{5}
\myspoke{PT-1}{FA}{1,...,4}{5}
\myspoke{PT-1}{C4}{8,9,12}{5}
\myspoke{AC-1}{K2}{1,...,36}{5}
\myspoke{AC-1}{MC}{1,...,5}{5}
\myspoke{AC-1}{FA}{4}{5}
\myspoke{AC-1}{PP}{1}{5}
\myspoke{AC-1}{PM}{1}{5}
\myspoke{PP-1}{PN}{1,...,10}{6}
\myspoke{PP-1}{TG}{1,...,5}{5}
\myspoke{PP-1}{DG}{1,2}{5}
\myspoke{PP-1}{ND}{1,...,5}{5}
\myspoke{PP-1}{MG}{1,2}{5}
\myspoke{PP-1}{LN}{1,2,3}{5}
\myspoke{PP-1}{AP}{1,2,3}{5}
\myspoke{PP-1}{K3}{8,13,46,50}{8}
\myspoke{PP-1}{MC}{4,5}{5}
\myspoke{C5-8}{S1}{1,...,6}{5}
\myspoke{C5-8}{S2}{1}{5}
\myspoke{C5-8}{K3}{2,5,7}{5}
\myspoke{C5-8}{C4}{6,7,11}{5}
\myspoke{C5-8}{C5b}{1}{5}
\myspoke{K3-46}{E7}{1,...,7}{8}
\myspoke{FA-4}{K3}{1,3,8,13}{5}
\myspoke{FA-4}{MC}{1,2,3}{5}
\myspoke{SB-1}{HM}{1,5}{5}
\myspoke{SB-2}{FA}{1}{5}
\myspoke{R32g-1}{R32}{1,...,9}{5}
\myspoke{C5-1}{I1}{5,6}{5}
\myspoke{MM-1}{T64}{1}{5}
\myspoke{R4b-1}{R4}{2}{15}
\myspoke{SPb-1}{SP}{3,5}{5}
\myspoke{MGb-1}{MG}{2}{5}
\end{pgfonlayer}

% ---- pass 3: labels ----
\begin{pgfonlayer}{fg}
\foreach \g/\s/\e in \grplist {%
  \expandafter\let\expandafter\cur\csname G@\g\endcsname
  \foreach \x/\y/\lab [count=\i] in \cur {\node[lb] at (\g-\i) {\lab};}
}
\end{pgfonlayer}
\end{tikzpicture}
\end{document}
